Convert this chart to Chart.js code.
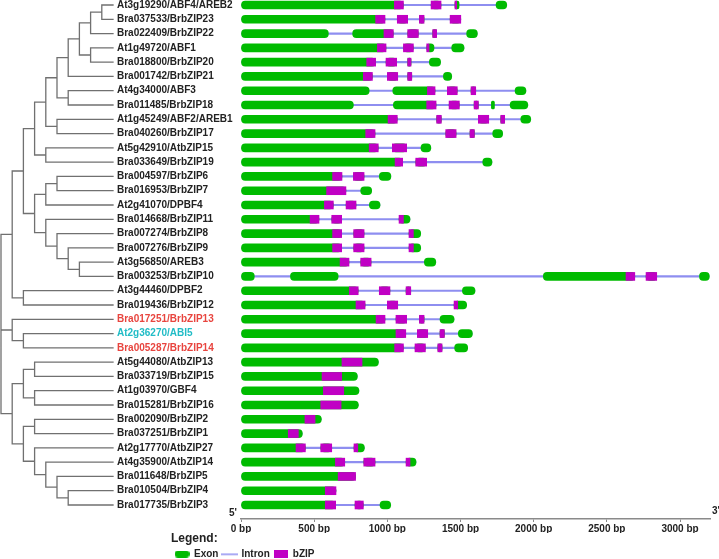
<!DOCTYPE html>
<html>
<head>
<meta charset="utf-8">
<script src="https://cdn.jsdelivr.net/npm/chart.js@4.4.1/dist/chart.umd.min.js"></script>
<style>
  body { margin: 0; background: #fff; overflow: hidden; }
  #wrap { position: relative; width: 719px; height: 559px; overflow: hidden; }
  canvas { position: absolute; left: 0; top: 0; }
</style>
</head>
<body>
<div id="wrap">
  <canvas id="genes" width="719" height="569"></canvas>
  <canvas id="tree" width="241" height="519"></canvas>
</div>
<script>
// gene names, top to bottom
var names = [
  "At3g19290/ABF4/AREB2", "Bra037533/BrbZIP23", "Bra022409/BrbZIP22", "At1g49720/ABF1",
  "Bra018800/BrbZIP20", "Bra001742/BrbZIP21", "At4g34000/ABF3", "Bra011485/BrbZIP18",
  "At1g45249/ABF2/AREB1", "Bra040260/BrbZIP17", "At5g42910/AtbZIP15", "Bra033649/BrbZIP19",
  "Bra004597/BrbZIP6", "Bra016953/BrbZIP7", "At2g41070/DPBF4", "Bra014668/BrbZIP11",
  "Bra007274/BrbZIP8", "Bra007276/BrbZIP9", "At3g56850/AREB3", "Bra003253/BrbZIP10",
  "At3g44460/DPBF2", "Bra019436/BrbZIP12", "Bra017251/BrbZIP13", "At2g36270/ABI5",
  "Bra005287/BrbZIP14", "At5g44080/AtbZIP13", "Bra033719/BrbZIP15", "At1g03970/GBF4",
  "Bra015281/BrbZIP16", "Bra002090/BrbZIP2", "Bra037251/BrbZIP1", "At2g17770/AtbZIP27",
  "At4g35900/AtbZIP14", "Bra011648/BrbZIP5", "Bra010504/BrbZIP4", "Bra017735/BrbZIP3"
];

// exon spans in bp, one list per gene
var exons = [
  [[0,1110],[1299,1367],[1462,1490],[1743,1816]],
  [[0,984],[1068,1139],[1219,1251],[1429,1502]],
  [[0,597],[763,1041],[1139,1212],[1310,1337],[1542,1615]],
  [[0,991],[1110,1178],[1269,1319],[1440,1524]],
  [[0,920],[991,1064],[1139,1162],[1287,1364]],
  [[0,898],[1000,1071],[1139,1167],[1383,1440]],
  [[0,876],[1037,1326],[1410,1478],[1572,1604],[1873,1947]],
  [[0,768],[1041,1333],[1422,1492],[1593,1622],[1711,1732],[1839,1960]],
  [[0,1068],[1337,1369],[1622,1693],[1775,1802],[1912,1980]],
  [[0,916],[1399,1470],[1565,1595],[1720,1788]],
  [[0,938],[1034,1132],[1230,1297]],
  [[0,1105],[1194,1269],[1652,1715]],
  [[0,690],[768,841],[945,1024]],
  [[0,717],[818,893]],
  [[0,631],[718,786],[877,950]],
  [[0,533],[620,688],[1080,1155]],
  [[0,688],[770,841],[1148,1228]],
  [[0,688],[770,841],[1148,1228]],
  [[0,738],[818,889],[1253,1331]],
  [[0,91],[338,664],[2066,2691],[2768,2841],[3133,3200]],
  [[0,801],[945,1018],[1128,1160],[1513,1599]],
  [[0,848],[1000,1071],[1456,1542]],
  [[0,984],[1059,1132],[1219,1251],[1360,1456]],
  [[0,1126],[1205,1276],[1360,1390],[1485,1581]],
  [[0,1110],[1189,1260],[1345,1374],[1460,1549]],
  [[0,939]],
  [[0,795]],
  [[0,806]],
  [[0,802]],
  [[0,549]],
  [[0,419]],
  [[0,440],[545,620],[772,843]],
  [[0,709],[839,916],[1128,1196]],
  [[0,783]],
  [[0,649]],
  [[0,647],[779,836],[950,1023]]
];

// bZIP domain spans in bp
var bzip = [
  [[1048,1110],[1299,1367],[1462,1474]],
  [[920,984],[1068,1139],[1219,1251],[1429,1502]],
  [[977,1041],[1139,1212],[1310,1337]],
  [[932,991],[1110,1178],[1269,1285]],
  [[859,920],[991,1064],[1139,1162]],
  [[836,898],[1000,1071],[1139,1167]],
  [[1274,1326],[1410,1478],[1572,1604]],
  [[1269,1333],[1422,1492],[1593,1622]],
  [[1005,1068],[1337,1369],[1622,1693],[1775,1802]],
  [[852,916],[1399,1470],[1565,1595]],
  [[876,938],[1034,1132]],
  [[1053,1105],[1194,1269]],
  [[626,690],[768,841]],
  [[585,717]],
  [[570,631],[718,786]],
  [[472,533],[620,688],[1080,1110]],
  [[626,688],[770,841],[1148,1178]],
  [[626,688],[770,841],[1148,1178]],
  [[677,738],[818,889]],
  [[2631,2691],[2768,2841]],
  [[740,801],[945,1018],[1128,1160]],
  [[786,848],[1000,1071],[1456,1481]],
  [[923,984],[1059,1132],[1219,1251]],
  [[1059,1126],[1205,1276],[1360,1390]],
  [[1050,1110],[1189,1260],[1345,1374]],
  [[690,827]],
  [[554,688]],
  [[563,702]],
  [[545,684]],
  [[437,506]],
  [[323,392]],
  [[376,440],[545,620],[772,798]],
  [[645,709],[839,916],[1128,1155]],
  [[664,783]],
  [[576,649]],
  [[576,647],[779,836]]
];

// cladogram: [children, level]; numbers are leaves (rows), 'nK' is the K-th node; leaves sit at level 10
var tree = [
  [[0,1],9], [['n0',2],8], [[3,4],8], [['n1','n2'],7], [['n3',5],6],
  [[6,7],6], [['n4','n5'],5], [[8,9],5], [['n6','n7'],4], [[10,11],4],
  [['n8','n9'],3], [[12,13],5], [['n11',14],4], [[18,19],7], [[17,'n13'],6],
  [[16,'n14'],5], [[15,'n15'],4], [['n12','n16'],3], [['n10','n17'],2], [[20,21],2],
  [['n18','n19'],1], [[23,24],2], [[22,'n21'],1], [[25,26],3], [[27,28],3],
  [['n23','n24'],2], [[29,30],3], [[34,35],6], [[33,'n27'],5], [[32,'n28'],4],
  [[31,'n29'],3], [['n26','n30'],2], [['n25','n31'],1], [['n20','n22','n32'],0]
];

var bpTicks = [0, 500, 1000, 1500, 2000, 2500, 3000];
var bpMax = 3205;
var highlight = {22: '#e8453f', 23: '#21bcc6', 24: '#e8453f'};

var GREEN = '#00bb00', PURPLE = '#c000c4', BLUE = '#8e8ef0', GREY = '#707070';
var rowMin = -0.35, rowMax = 35.98;

Chart.defaults.font.family = '"Liberation Sans", Arial, sans-serif';
Chart.defaults.font.weight = 'bold';
Chart.defaults.font.size = 10;
Chart.defaults.color = '#222';
Chart.defaults.animation = false;

function flatten(list) {
  var out = [];
  list.forEach(function(segs, i) {
    segs.forEach(function(s) { out.push({y: i, x: [s[0], s[1]]}); });
  });
  return out;
}
var introns = exons.map(function(segs, i) {
  return {y: i, x: [0, segs[segs.length - 1][1]]};
});

// tree line points, null = break
var nodeY = {}, nodeL = {};
names.forEach(function(n, i) { nodeY[i] = i; nodeL[i] = 10; });
var treePoints = [];
tree.forEach(function(node, k) {
  var kids = node[0], lvl = node[1];
  var ys = kids.map(function(c) { return nodeY[c]; });
  kids.forEach(function(c) {
    treePoints.push({x: nodeL[c], y: nodeY[c]}, {x: lvl, y: nodeY[c]}, {x: null, y: null});
  });
  treePoints.push({x: lvl, y: Math.min.apply(null, ys)}, {x: lvl, y: Math.max.apply(null, ys)}, {x: null, y: null});
  nodeY['n' + k] = ys.reduce(function(a, b) { return a + b; }, 0) / ys.length;
  nodeL['n' + k] = lvl;
});

function icon(w, h, draw) {
  var c = document.createElement('canvas');
  c.width = w; c.height = h;
  draw(c.getContext('2d'), w, h);
  return c;
}
var exonIcon = icon(15, 7, function(g, w, h) {
  g.fillStyle = GREEN; g.beginPath(); g.roundRect(0, 0, w, h, 3.5); g.fill();
});
var intronIcon = icon(17, 7, function(g, w, h) {
  g.fillStyle = BLUE; g.fillRect(0, 3, w, 1.5);
});
var bzipIcon = icon(14, 8, function(g, w, h) {
  g.fillStyle = PURPLE; g.fillRect(0, 0, w, h);
});

var endLabels = {
  id: 'endLabels',
  afterDraw: function(chart) {
    var x = chart.scales.x, c = chart.ctx;
    c.save();
    c.font = 'bold 10px "Liberation Sans", Arial, sans-serif';
    c.fillStyle = '#222';
    c.textBaseline = 'middle';
    c.textAlign = 'right';
    c.fillText("5'", x.getPixelForValue(0) - 4, x.top - 6);
    c.textAlign = 'left';
    c.fillText("3'", x.getPixelForValue(bpMax) + 2, x.top - 8);
    c.restore();
  }
};

new Chart(document.getElementById('genes'), {
  type: 'bar',
  data: {
    datasets: [
      {label: 'bZIP', data: flatten(bzip), backgroundColor: PURPLE, barThickness: 8, grouped: false},
      {label: 'Exon', data: flatten(exons), backgroundColor: GREEN, barThickness: 8, grouped: false,
       borderRadius: 4, borderSkipped: false},
      {label: 'Intron', data: introns, backgroundColor: BLUE, barThickness: 1.5, grouped: false}
    ]
  },
  options: {
    indexAxis: 'y',
    responsive: false,
    layout: {padding: {left: 171, right: 9}},
    scales: {
      x: {
        type: 'linear', min: 0, max: bpMax,
        afterBuildTicks: function(s) { s.ticks = bpTicks.map(function(v) { return {value: v}; }); },
        ticks: {autoSkip: false, maxRotation: 0, minRotation: 0, padding: 1, color: '#222',
                callback: function(v) { return v + ' bp'; }},
        grid: {drawOnChartArea: false, tickLength: 3, color: '#8a8a8a'},
        border: {color: '#8a8a8a', width: 1.5},
        afterFit: function(s) { s.height = 14; s.paddingLeft = 0; s.paddingRight = 0; }
      },
      y: {
        type: 'linear', reverse: true, offset: false, min: rowMin, max: rowMax,
        ticks: {display: false}, grid: {display: false, offset: false}, border: {display: false},
        afterFit: function(s) { s.width = 70; }
      }
    },
    plugins: {
      tooltip: {enabled: false},
      legend: {
        position: 'bottom', align: 'start',
        title: {display: true, text: 'Legend:', position: 'start', color: '#222',
                font: {size: 12, weight: 'bold', lineHeight: 1}},
        labels: {
          usePointStyle: true, pointStyleWidth: 14, padding: 4, color: '#222',
          font: {size: 10, weight: 'bold'},
          generateLabels: function() {
            return [
              {text: 'Exon', pointStyle: exonIcon, fillStyle: GREEN, lineWidth: 0, hidden: false, datasetIndex: 1},
              {text: 'Intron', pointStyle: intronIcon, fillStyle: BLUE, lineWidth: 0, hidden: false, datasetIndex: 2},
              {text: 'bZIP', pointStyle: bzipIcon, fillStyle: PURPLE, lineWidth: 0, hidden: false, datasetIndex: 0}
            ];
          }
        }
      }
    }
  },
  plugins: [endLabels]
});

new Chart(document.getElementById('tree'), {
  type: 'line',
  data: {
    datasets: [{
      data: treePoints, borderColor: GREY, borderWidth: 1.3, borderCapStyle: 'square',
      pointRadius: 0, spanGaps: false, tension: 0, clip: false
    }]
  },
  options: {
    responsive: false,
    layout: {padding: {left: 1}},
    scales: {
      x: {type: 'linear', min: 0, max: 10, display: false},
      y: {
        type: 'linear', position: 'right', reverse: true, min: rowMin, max: rowMax,
        grid: {display: false, drawTicks: false}, border: {display: false},
        afterBuildTicks: function(s) { s.ticks = names.map(function(n, i) { return {value: i}; }); },
        ticks: {
          autoSkip: false, padding: 4, crossAlign: 'near',
          callback: function(v) { return names[v]; },
          color: function(c) { return highlight[c.index] || '#222'; }
        },
        afterFit: function(s) { s.width = 128; s.paddingTop = 0; s.paddingBottom = 0; }
      }
    },
    plugins: {legend: {display: false}, tooltip: {enabled: false}}
  }
});
</script>
</body>
</html>
